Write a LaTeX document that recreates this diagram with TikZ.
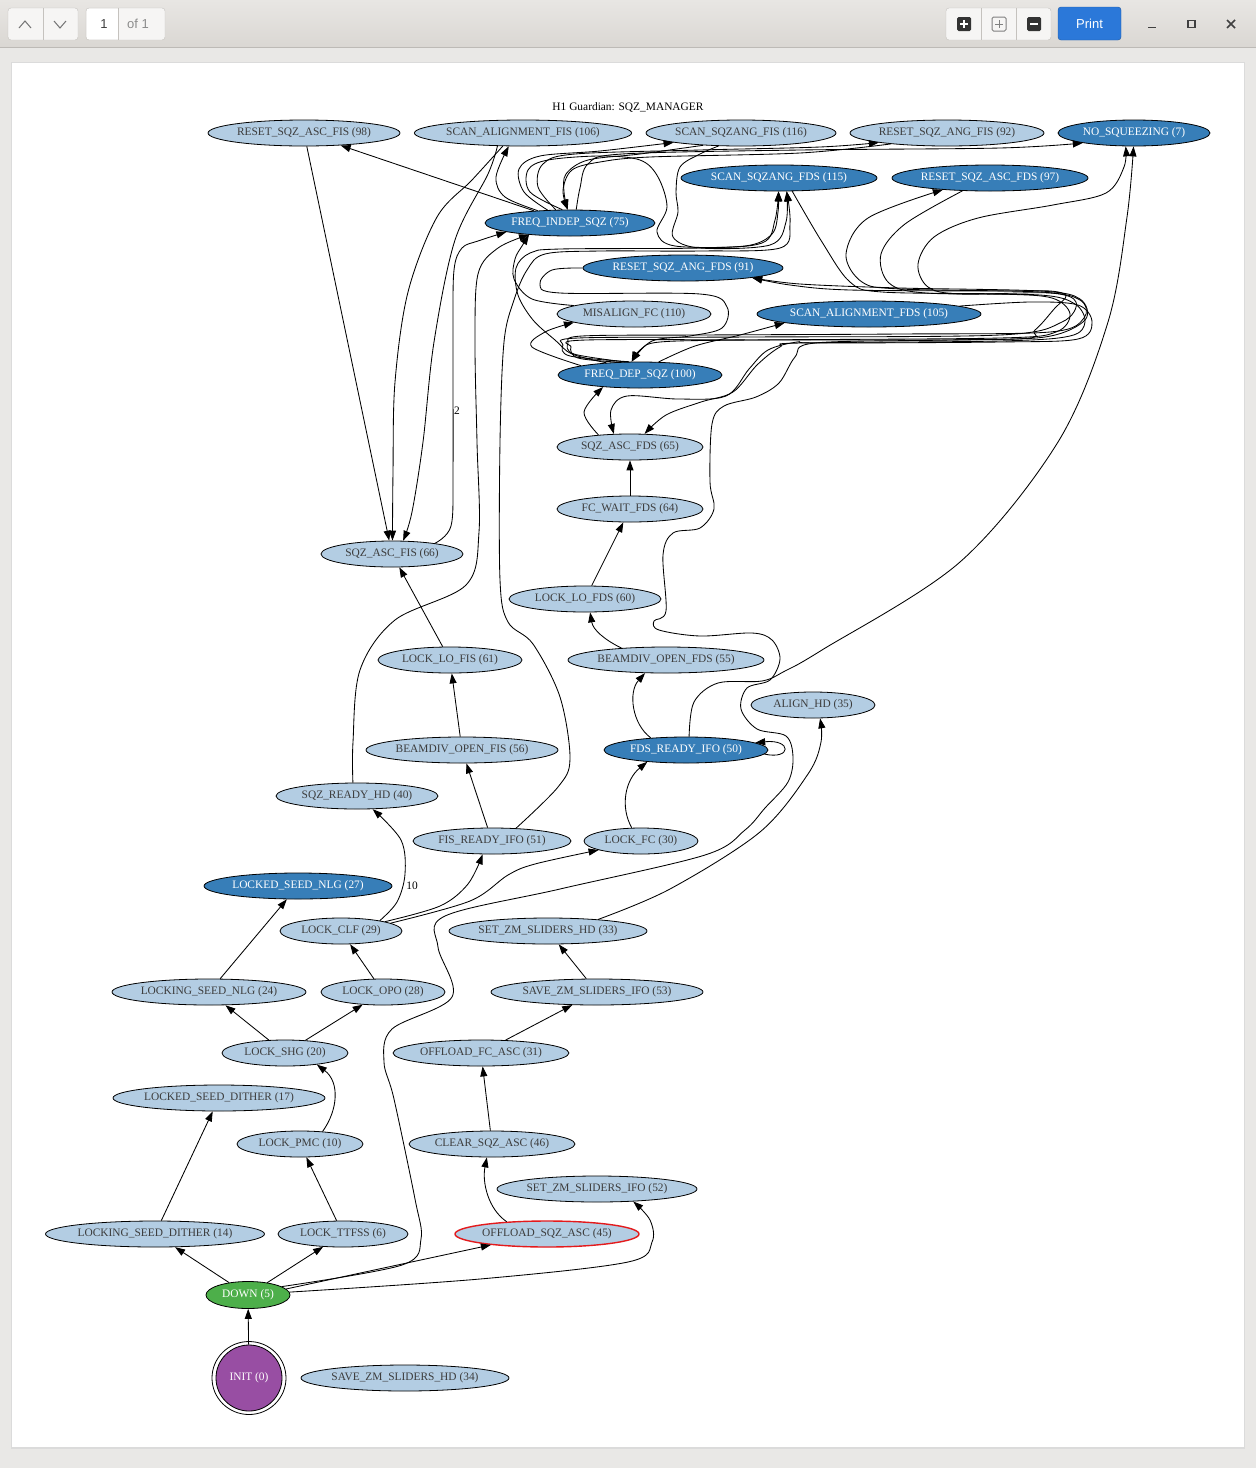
\documentclass[tikz,border=0pt]{standalone}
\usepackage{fontspec}
\setmainfont{Liberation Serif}
\newfontfamily\uifont{Liberation Sans}
\usetikzlibrary{shapes.geometric,arrows.meta}
\definecolor{lbc}{HTML}{B3CDE3}
\definecolor{dbc}{HTML}{377EB8}
\definecolor{gnc}{HTML}{4DAF4A}
\definecolor{ppc}{HTML}{984EA3}
\definecolor{rdc}{HTML}{E41A1C}
\definecolor{ltx}{HTML}{3C3C3C}
\definecolor{bgc}{HTML}{E9E8E6}
\definecolor{tbtop}{HTML}{E8E6E3}
\definecolor{tbbot}{HTML}{DAD7D3}
\definecolor{tbline}{HTML}{BDBAB6}
\definecolor{btnf}{HTML}{F6F5F4}
\definecolor{btnb}{HTML}{C5C2BE}
\definecolor{prc}{HTML}{2B78D9}
\newcommand{\gvf}{\fontsize{11.4pt}{12pt}\selectfont}
\begin{document}
\begin{tikzpicture}[x=1pt,y=-1pt,
  gvn/.style={ellipse, draw=black, line width=0.8pt, inner sep=0pt, minimum height=26pt, font=\gvf},
  lb/.style={gvn, fill=lbc, text=ltx},
  db/.style={gvn, fill=dbc, text=white},
  edg/.style={draw=black, line width=0.85pt, -{Triangle[length=10pt,width=7pt]}},
  ui/.style={font=\uifont\fontsize{13pt}{14pt}\selectfont, text=black!75},
]
\useasboundingbox (0,0) rectangle (1256,1468);
% window chrome
\fill[bgc] (0,0) rectangle (1256,1468);
\shade[top color=tbtop, bottom color=tbbot] (0,0) rectangle (1256,47);
\draw[tbline] (0,47.5) -- (1256,47.5);
\fill[black!14] (11,62) rectangle (1245,1449);
\fill[white] (12,63) rectangle (1244,1447);
\draw[btnb, fill=btnf, rounded corners=3pt] (8,8) rectangle (78,40);
\draw[btnb] (43,8) -- (43,40);
\draw[black!55, line width=1pt] (19,28) -- (25,21) -- (31,28);
\draw[black!55, line width=1pt] (54,21) -- (60,28) -- (66,21);
\draw[btnb, fill=btnf, rounded corners=3pt] (86,8) rectangle (165,40);
\fill[white] (87,9) rectangle (118,39);
\draw[btnb] (118,8) -- (118,40);
\node[ui] (pg) at (104,24) {1};
\node[ui, text=black!45] (pgof) at (138,24) {of 1};
\draw[btnb, fill=btnf, rounded corners=3pt] (946,8) rectangle (1051,40);
\draw[btnb] (981,8) -- (981,40) (1016,8) -- (1016,40);
\fill[black!80, rounded corners=1.5pt] (957,17) rectangle (971,31);
\draw[white, line width=1.6pt] (960,24) -- (968,24) (964,20) -- (964,28);
\draw[black!50, line width=1pt, rounded corners=1.5pt] (992,17) rectangle (1006,31);
\draw[black!50, line width=0.8pt] (995,24) -- (1003,24) (999,20) -- (999,28);
\fill[black!80, rounded corners=1.5pt] (1027,17) rectangle (1041,31);
\draw[white, line width=1.6pt] (1030,24) -- (1038,24);
\draw[prc!75!black, fill=prc, rounded corners=3pt] (1058,7) rectangle (1121,40);
\node[ui, text=white] (prt) at (1089.5,24) {Print};
\draw[black!75, line width=1.5pt] (1148,27.5) -- (1156,27.5);
\draw[black!75, line width=1.5pt] (1188,20.5) rectangle (1195,27.5);
\draw[black!75, line width=1.5pt] (1227,20) -- (1235,28) (1235,20) -- (1227,28);
\begin{scope}[shift={(0,2)}]
% title
\node[font=\gvf] (title) at (628,105) {H1 Guardian: SQZ\_MANAGER};
% nodes
\node[lb, minimum width=192pt] (rsaf) at (304,131) {RESET\_SQZ\_ASC\_FIS (98)};
\node[lb, minimum width=216pt] (saf) at (523,131) {SCAN\_ALIGNMENT\_FIS (106)};
\node[lb, minimum width=190pt] (ssf) at (741,131) {SCAN\_SQZANG\_FIS (116)};
\node[lb, minimum width=194pt] (rsanf) at (947,131) {RESET\_SQZ\_ANG\_FIS (92)};
\node[db, minimum width=152pt] (nosq) at (1134,131) {NO\_SQUEEZING (7)};
\node[db, minimum width=196pt] (ssfds) at (779,176) {SCAN\_SQZANG\_FDS (115)};
\node[db, minimum width=196pt] (rsafds) at (990,176) {RESET\_SQZ\_ASC\_FDS (97)};
\node[db, minimum width=170pt] (fis) at (570,221) {FREQ\_INDEP\_SQZ (75)};
\node[db, minimum width=200pt] (rsanfds) at (683,266) {RESET\_SQZ\_ANG\_FDS (91)};
\node[lb, minimum width=154pt] (mfc) at (634,312) {MISALIGN\_FC (110)};
\node[db, minimum width=224pt] (safds) at (869,312) {SCAN\_ALIGNMENT\_FDS (105)};
\node[db, minimum width=164pt] (fds) at (640,373) {FREQ\_DEP\_SQZ (100)};
\node[lb, minimum width=146pt] (sqafds) at (630,445) {SQZ\_ASC\_FDS (65)};
\node[lb, minimum width=146pt] (fcw) at (630,507) {FC\_WAIT\_FDS (64)};
\node[lb, minimum width=142pt] (sqafis) at (392,552) {SQZ\_ASC\_FIS (66)};
\node[lb, minimum width=152pt] (llfds) at (585,597) {LOCK\_LO\_FDS (60)};
\node[lb, minimum width=144pt] (llfis) at (450,658) {LOCK\_LO\_FIS (61)};
\node[lb, minimum width=196pt] (bofds) at (666,658) {BEAMDIV\_OPEN\_FDS (55)};
\node[lb, minimum width=124pt] (ahd) at (813,703) {ALIGN\_HD (35)};
\node[lb, minimum width=192pt] (bofis) at (462,748) {BEAMDIV\_OPEN\_FIS (56)};
\node[db, minimum width=164pt] (fdsr) at (686,748) {FDS\_READY\_IFO (50)};
\node[lb, minimum width=162pt] (sqrhd) at (357,794) {SQZ\_READY\_HD (40)};
\node[lb, minimum width=158pt] (fisr) at (492,839) {FIS\_READY\_IFO (51)};
\node[lb, minimum width=114pt] (lfc) at (641,839) {LOCK\_FC (30)};
\node[db, minimum width=188pt] (lsnd) at (298,884) {LOCKED\_SEED\_NLG (27)};
\node[lb, minimum width=122pt] (lclf) at (341,929) {LOCK\_CLF (29)};
\node[lb, minimum width=198pt] (szmhd) at (548,929) {SET\_ZM\_SLIDERS\_HD (33)};
\node[lb, minimum width=194pt] (lsnlg) at (209,990) {LOCKING\_SEED\_NLG (24)};
\node[lb, minimum width=124pt] (lopo) at (383,990) {LOCK\_OPO (28)};
\node[lb, minimum width=212pt] (szmifo) at (597,990) {SAVE\_ZM\_SLIDERS\_IFO (53)};
\node[lb, minimum width=126pt] (lshg) at (285,1051) {LOCK\_SHG (20)};
\node[lb, minimum width=176pt] (ofca) at (481,1051) {OFFLOAD\_FC\_ASC (31)};
\node[lb, minimum width=212pt] (lsdd) at (219,1096) {LOCKED\_SEED\_DITHER (17)};
\node[lb, minimum width=126pt] (lpmc) at (300,1142) {LOCK\_PMC (10)};
\node[lb, minimum width=166pt] (csa) at (492,1142) {CLEAR\_SQZ\_ASC (46)};
\node[lb, minimum width=200pt] (szmifoB) at (597,1187) {SET\_ZM\_SLIDERS\_IFO (52)};
\node[lb, minimum width=218pt] (lsdith) at (155,1232) {LOCKING\_SEED\_DITHER (14)};
\node[lb, minimum width=130pt] (lttfss) at (343,1232) {LOCK\_TTFSS (6)};
\node[lb, minimum width=184pt, draw=rdc, line width=1.4pt] (osa) at (547,1232) {OFFLOAD\_SQZ\_ASC (45)};
\node[gvn, fill=gnc, text=white, minimum width=84pt, minimum height=27pt] (down) at (248,1293) {DOWN (5)};
\node[gvn, fill=ppc, text=white, minimum width=66pt, minimum height=66pt] (init) at (249,1376) {INIT (0)};
\draw[line width=0.8pt] (init.center) ellipse [x radius=37pt, y radius=36.5pt];
\node[lb, minimum width=208pt] (szmhdB) at (405,1376) {SAVE\_ZM\_SLIDERS\_HD (34)};
% straight edges
\draw[edg] (init) -- (down);
\draw[edg] (down) -- (lsdith);
\draw[edg] (down) -- (lttfss);
\draw[edg] (down.9) -- (osa.-169);
\draw[edg] (lttfss) -- (lpmc);
\draw[edg] (lsdith) -- (lsdd);
\draw[edg] (lshg) -- (lsnlg);
\draw[edg] (lshg) -- (lopo);
\draw[edg] (lsnlg) -- (lsnd);
\draw[edg] (lopo) -- (lclf);
\draw[edg] (csa) -- (ofca);
\draw[edg] (ofca) -- (szmifo);
\draw[edg] (szmifo) -- (szmhd);
\draw[edg] (fisr) -- (bofis);
\draw[edg] (bofis) -- (llfis);
\draw[edg] (llfis) -- (sqafis);
\draw[edg] (llfds) -- (fcw);
\draw[edg] (fcw) -- (sqafds);
\draw[edg] (rsaf) -- (sqafis);
\draw[edg] (fis) -- (rsaf);
% short curves
\draw[edg] (bofds.165) .. controls (605,638) and (593,628) .. (llfds.-69);
\draw[edg] (fdsr.161) .. controls (632,722) and (628,690) .. (bofds.-148);
\draw[edg] (fdsr.-3) .. controls (792,758) and (792,737) .. (fdsr.6);
\draw[edg] (lfc.125) .. controls (620,805) and (625,778) .. (fdsr.-163);
\draw[edg] plot[smooth,tension=.55] coordinates {(lclf.15) (397,900) (405,872) (401,838) (sqrhd.-40)};
\node[font=\gvf] (l10) at (412,884) {10};
\draw[edg] (lpmc.29) .. controls (338,1108) and (340,1080) .. (lshg.-20);
\draw[edg] (osa.163) .. controls (488,1207) and (482,1180) .. (csa.-111);
\draw[edg] plot[smooth,tension=.55] coordinates {(down.4) (480,1277) (628,1260) (652,1240) (650,1218) (szmifoB.-19)};
\draw[edg] plot[smooth,tension=.55] coordinates {(lclf.12) (440,904) (468,882) (fisr.-125)};
\draw[edg] plot[smooth,tension=.55] coordinates {(lclf.9) (470,899) (508,873) (535,862) (lfc.-168)};
\draw[edg] plot[smooth,tension=.55] coordinates {(szmhd.13) (670,887) (760,830) (808,772) (821,740) (ahd.-62)};
\draw[edg] plot[smooth,tension=.55] coordinates {(fdsr.77) (694,700) (718,681) (762,679) (785,669) (822,648) (960,560) (1058,440) (1108,320) (1127,215) (nosq.-92)};
% long curve from DOWN
\draw[edg] plot[smooth,tension=.55] coordinates {(down.14) (402,1263) (421,1237) (415,1197) (394,1097) (384,1060) (392,1027) (452,995) (438,945) (445,914) (560,887) (705,853) (745,828) (765,806) (788,780) (793,755) (786,734) (757,727) (741,707) (747,686) (770,678) (780,657) (772,638) (752,631) (700,634) (659,628) (654,619) (666,609) (663,553) (673,531) (700,526) (714,507) (710,480) (712,422) (724,404) (756,395) (779,381) (795,355) (815,341) (950,338) (1045,335) (1085,318) (1080,297) (1040,289) (900,286) (800,282) (rsanfds.-8)};
% FIS side
\draw[edg] plot[smooth,tension=.55] coordinates {(sqrhd.107) (353,740) (360,668) (395,618) (466,583) (479,530) (477,440) (475,340) (478,272) (498,246) (fis.-164)};
\draw[edg] plot[smooth,tension=.55] coordinates {(sqafis.14.5) (451,524) (453,470) (453,330) (454,268) (462,246) (478,239) (fis.-172)};
\node[font=\gvf] (l2) at (457,409) {2};
\draw[edg] plot[smooth,tension=.55] coordinates {(saf.-147) (472,178) (437,215) (408,290) (395,380) (393,470) (sqafis.88)};
\draw[edg] plot[smooth,tension=.55] coordinates {(saf.-153) (488,172) (455,238) (434,340) (423,440) (412,510) (sqafis.50)};
\draw[edg] plot[smooth,tension=.55] coordinates {(fis.159) (505,195) (496,175) (saf.-137)};
\draw[edg] plot[smooth,tension=.55] coordinates {(fis.150) (524,190) (519,167) (540,154) (600,149) (ssf.-172.6)};
\draw[edg] plot[smooth,tension=.55] coordinates {(fis.137) (538,185) (543,162) (575,152) (700,148) (820,145) (rsanf.-172.5)};
\draw[edg] plot[smooth,tension=.55] coordinates {(fis.65) (580,186) (588,162) (622,152) (800,148) (1000,146) (nosq.-169)};
\draw[edg] plot[smooth,tension=.55] coordinates {(ssf.-162) (640,152) (588,158) (566,172) (564,190) (fis.100)};
\draw[edg] plot[smooth,tension=.55] coordinates {(rsanf.-169.6) (800,151) (650,155) (600,160) (572,168) (563,188) (fis.100)};
\draw[edg] plot[smooth,tension=.55] coordinates {(fis.120) (530,190) (528,168) (548,158) (600,154) (640,158) (658,175) (667,205) (657,230) (675,244) (745,244) (772,232) (778,210) (ssfds.-92)};
\draw[edg] plot[smooth,tension=.55] coordinates {(ssf.-150) (700,152) (680,165) (676,190) (678,210) (673,235) (700,246) (770,243) (786,220) (ssfds.-60)};
\draw[edg] plot[smooth,tension=.55] coordinates {(fisr.28) (558,785) (570,757) (560,695) (533,642) (508,620) (500,578) (500,440) (504,340) (514,298) (527,268) (545,252) (600,249) (700,249) (780,246) (790,222) (ssfds.-60)};
\draw[edg] plot[smooth,tension=.55] coordinates {(mfc.172) (532,297) (514,277) (515,257) (522,244) (fis.-164)};
% FDS side
\draw[edg] plot[smooth,tension=.55] coordinates {(fds.160) (572,352) (555,338) (533,318) (518,293) (516,266) (530,251) (560,247) (700,246) (762,241) (775,218) (ssfds.-92)};
\draw[edg] plot[smooth,tension=.55] coordinates {(ssfds.-45) (822,240) (850,280) (882,290) (1000,292) (1052,296) (1070,312) (1056,330) (1000,336) (750,338) (660,340) (640,348) (fds.122)};
\draw[edg] plot[smooth,tension=.55] coordinates {(rsafds.-155) (905,222) (881,252) (889,281) (926,291) (1040,293) (1075,302) (1085,320) (1070,334) (1000,339) (800,341) (780,345) (757,363) (733,390) (701,400) (666,413) (sqafds.42)};
\draw[edg] plot[smooth,tension=.55] coordinates {(safds.5) (1030,300) (1078,303) (1092,320) (1078,337) (1000,340) (818,341) (797,340) (768,348) (749,367) (726,394) (678,397) (627,394) (611,408) (sqafds.141.6)};
\draw[edg] plot[smooth,tension=.55] coordinates {(sqafds.159) (584,410) (fds.-162)};
\draw[edg] plot[smooth,tension=.55] coordinates {(fds.171) (532,345) (545,330) (mfc.-172.6)};
\draw[edg] plot[smooth,tension=.55] coordinates {(fds.35) (695,344) (740,333) (safds.-174)};
\draw[edg] plot[smooth,tension=.55] coordinates {(fds.140) (574,352) (568,341) (582,334) (700,333) (900,332) (1050,330) (1084,316) (1080,298) (1040,290) (900,287) (862,280) (846,252) (868,216) (rsafds.-166)};
\draw[edg] plot[smooth,tension=.55] coordinates {(fds.130) (570,354) (563,343) (578,336) (750,335) (1000,333) (1062,320) (1076,300) (1050,291) (960,292) (928,285) (918,262) (934,235) (978,216) (1053,203) (1106,191) (1124,165) (nosq.-122)};
\draw[edg] plot[smooth,tension=.55] coordinates {(fds.150) (578,356) (571,345) (586,338) (800,338) (1015,337) (1035,328) (1055,306) (1066,294) (1050,289) (1000,289) (850,288) (790,283) (rsanfds.-8)};
\draw[edg] plot[smooth,tension=.55] coordinates {(rsanfds.180) (552,268) (540,282) (560,291) (700,292) (727,305) (722,326) (690,334) (652,339) (fds.122)};
\end{scope}
\end{tikzpicture}
\end{document}
